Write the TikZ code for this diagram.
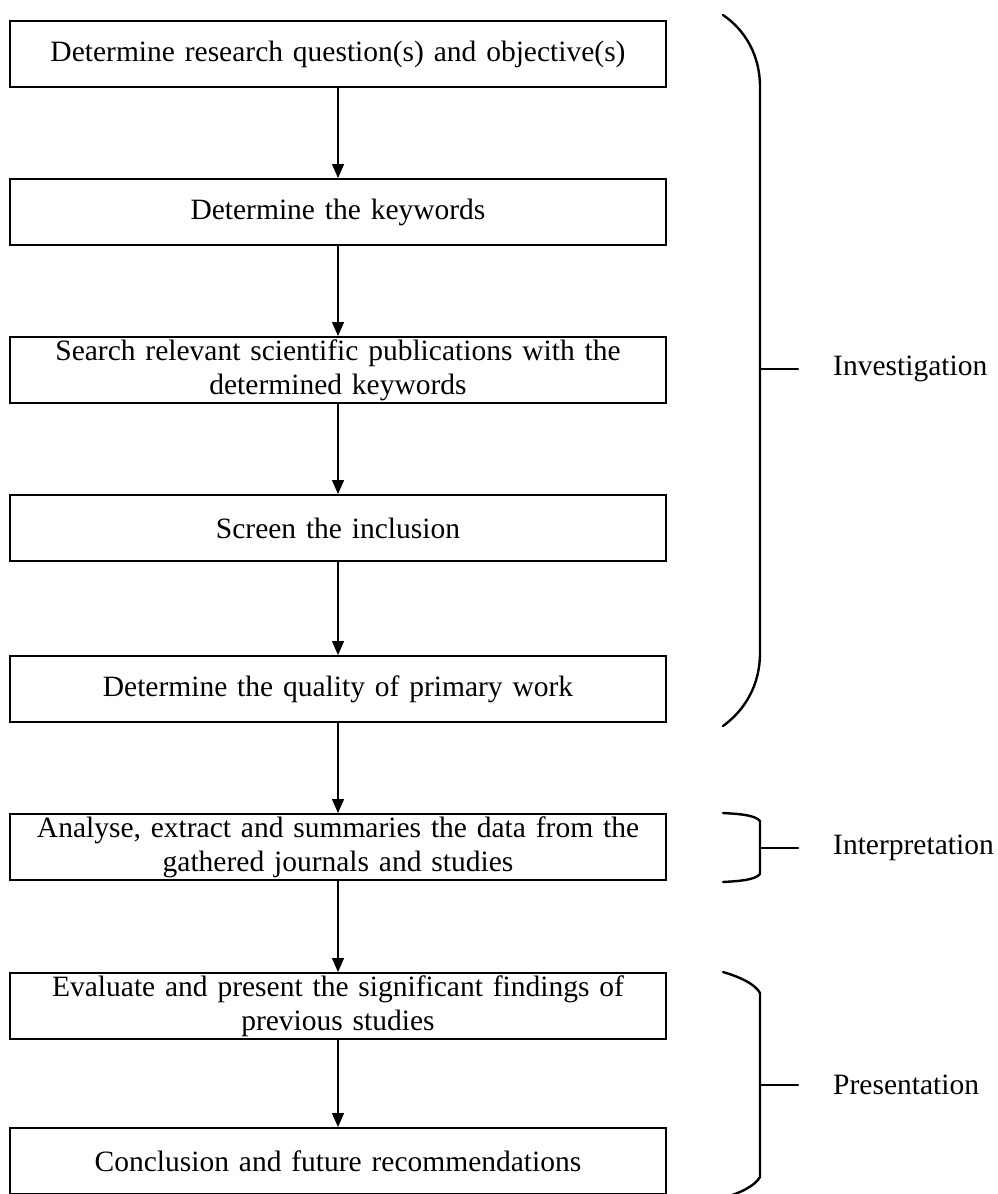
\documentclass[tikz,border=0pt]{standalone}
\usepackage{fontspec}
\setmainfont{Liberation Serif}
\usetikzlibrary{arrows.meta}
\begin{document}
\begin{tikzpicture}[x=1pt,y=-1pt,
  stepbox/.style={draw, line width=2pt, minimum width=656pt, minimum height=66pt,
    inner sep=0pt, text width=650pt, align=center,
    font=\fontsize{29.5}{34}\selectfont},
  flow/.style={line width=1.4pt, -{Triangle[length=14pt,width=12pt]}},
  bracel/.style={line width=2.4pt, line cap=round},
  grouplabel/.style={anchor=west, inner sep=0pt, font=\fontsize{29.5}{34}\selectfont}]
\useasboundingbox (0,0) rectangle (997,1194);
\clip (0,0) rectangle (997,1194);
\fill[white] (0,0) rectangle (997,1194);

\node[stepbox] (b1) at (338,54) {Determine research question(s) and objective(s)};
\node[stepbox] (b2) at (338,212) {Determine the keywords};
\node[stepbox] (b3) at (338,370) {Search relevant scientific publications with the\\determined keywords};
\node[stepbox] (b4) at (338,528) {Screen the inclusion};
\node[stepbox] (b5) at (338,689) {Determine the quality of primary work};
\node[stepbox] (b6) at (338,847) {Analyse, extract and summaries the data from the\\gathered journals and studies};
\node[stepbox] (b7) at (338,1006) {Evaluate and present the significant findings of\\previous studies};
\node[stepbox] (b8) at (338,1161) {Conclusion and future recommendations};

\foreach \a/\b in {b1/b2,b2/b3,b3/b4,b4/b5,b5/b6,b6/b7,b7/b8}
  \draw[flow] (\a.south) -- (\b.north);

% Investigation brace
\draw[bracel] (723,15) .. controls (745,30) and (760,55) .. (760,87)
  -- (760,653) .. controls (760,685) and (745,710) .. (723,726);
\coordinate (tinv) at (760,369);
\node[grouplabel] (linv) at (833,369) {Investigation};
\draw[bracel] (tinv) -- ++(38,0);

% Interpretation brace
\draw[bracel] (723,813) .. controls (740,814) and (755,815) .. (760,821)
  -- (760,874) .. controls (755,880) and (740,881) .. (723,882);
\coordinate (tint) at (760,848);
\node[grouplabel] (lint) at (833,848) {Interpretation};
\draw[bracel] (tint) -- ++(38,0);

% Presentation brace
\draw[bracel] (723,972) .. controls (740,977) and (755,984) .. (760,993)
  -- (760,1177) .. controls (755,1186) and (740,1193) .. (723,1198);
\coordinate (tpre) at (760,1085);
\node[grouplabel] (lpre) at (833,1085) {Presentation};
\draw[bracel] (tpre) -- ++(38,0);
\end{tikzpicture}
\end{document}
